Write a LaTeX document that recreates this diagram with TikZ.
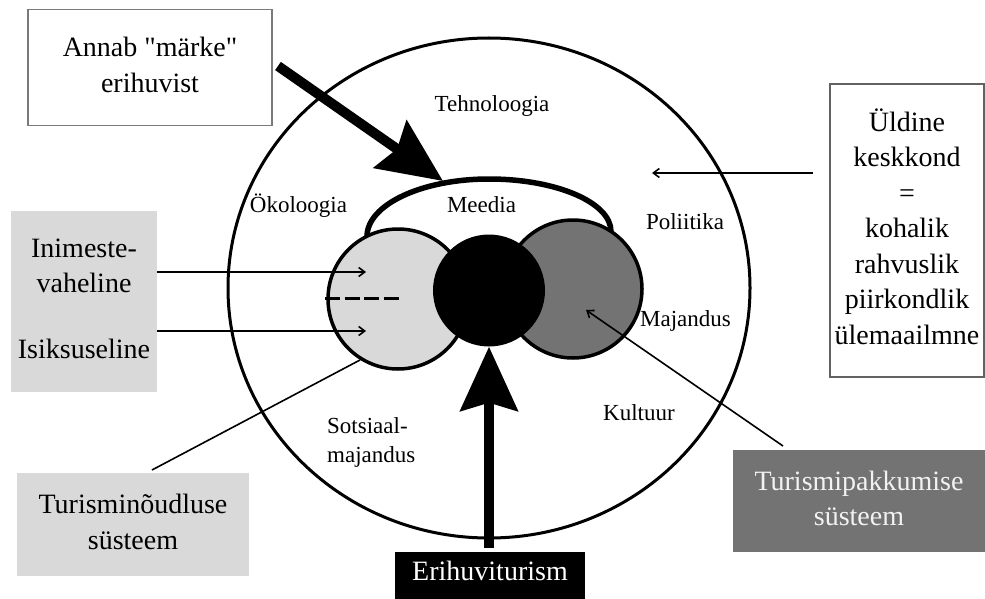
\documentclass[tikz,border=0pt]{standalone}
\usepackage{fontspec}
\setmainfont{Liberation Serif}[Ligatures=TeXOff]
\usetikzlibrary{arrows.meta,shapes.geometric}
\definecolor{lgray}{HTML}{D9D9D9}
\definecolor{dgray}{HTML}{737373}
\definecolor{bgray}{HTML}{7A7A7A}
\definecolor{ptext}{HTML}{F2F2F2}
\begin{document}
\begin{tikzpicture}[x=1pt,y=-1pt,
  boxfont/.style={font=\fontsize{28}{35.5}\selectfont, align=center, inner sep=0pt},
  lbl/.style={font=\fontsize{23}{29}\selectfont, inner sep=0pt},
  framebox/.style={draw=bgray, line width=1.5pt, fill=white},
  bigarrow/.style={line width=10pt, -{Stealth[length=64pt, width=57pt, inset=8pt]}},
  thinarrow/.style={line width=1.6pt, -{Straight Barb[length=6pt, width=9pt]}},
  thinline/.style={line width=1.6pt},
  ring/.style={circle, draw, line width=3.5pt, inner sep=0pt}
]
\useasboundingbox (0,0) rectangle (985,599);
\fill[white] (0,0) rectangle (985,599);

% environment ellipse
\node[ellipse, draw, line width=3pt, minimum width=522pt, minimum height=500pt, inner sep=0pt] (env) at (489,288) {};

% circles
\node[ring, fill=lgray, minimum size=140pt] (dem) at (398,299) {};
\node[ring, fill=dgray, minimum size=138pt] (sup) at (573,289) {};
\node[circle, fill=black, minimum size=112pt, inner sep=0pt] (core) at (489,290.5) {};

% media loop
\draw[line width=5.5pt] (367,236.5) arc[start angle=180, end angle=90, x radius=122pt, y radius=57.5pt]
  arc[start angle=90, end angle=0, x radius=122pt, y radius=52.5pt];

% dashed separator
\coordinate (d1) at (325,298);
\coordinate (d2) at (400,298);
\draw[line width=3pt, dash pattern=on 15pt off 4.5pt] (d1) -- (d2);

% boxes
\node[framebox, boxfont, minimum width=244pt, minimum height=116pt] (annab) at (150,67.5)
  {\strut Annab "märke"\\\strut erihuvist};
\node[framebox, draw=bgray!80!black, boxfont, minimum width=154pt, minimum height=293pt] (uld) at (907,230.5)
  {\strut Üldine\\\strut keskkond\\\strut =\\\strut kohalik\\\strut rahvuslik\\\strut piirkondlik\\\strut ülemaailmne};
\node[fill=lgray, minimum width=146pt, minimum height=181pt, inner sep=0pt] (inim) at (84,301.5) {};
\node[boxfont] (inimtxt) at (84,267.65) {\strut Inimeste-\\\strut vaheline};
\node[boxfont] (isiktxt) at (84,350.9) {\strut Isiksuseline};
\node[fill=lgray, boxfont, minimum width=232pt, minimum height=103pt] (demsys) at (133,524.5)
  {\strut Turisminõudluse\\\strut süsteem};
\node[fill=dgray, text=ptext, boxfont, minimum width=252pt, minimum height=102pt] (supsys) at (859,501)
  {\strut Turismipakkumise\\\strut süsteem};
\node[fill=black, minimum width=190pt, minimum height=60pt, inner sep=0pt] (eri) at (490,582) {};
\node[boxfont, text=white] (eritxt) at (490,572.9) {\strut Erihuviturism};

% labels
\node[lbl] (tehno) at (492,106.2) {\strut Tehnoloogia};
\node[lbl] (oko) at (298.5,206.2) {\strut Ökoloogia};
\node[lbl] (meedia) at (481.5,207) {\strut Meedia};
\node[lbl] (poli) at (685,224) {\strut Poliitika};
\node[lbl] (maj) at (685.5,321) {\strut Majandus};
\node[lbl] (kult) at (639,415) {\strut Kultuur};
\node[lbl, align=left, anchor=west] (sots) at (327,441.7) {\strut Sotsiaal-\\\strut majandus};

% connectors
\coordinate (a1) at (278,66);
\coordinate (a2) at (443,181);
\draw[bigarrow] (a1) -- (a2);
\coordinate (u1) at (489,548);
\draw[bigarrow] (u1) -- (core.south);

\coordinate (i1) at (157,272);
\coordinate (i2) at (366,272);
\draw[thinarrow] (i1) -- (i2);
\coordinate (s1) at (157,331);
\coordinate (s2) at (366,331);
\draw[thinarrow] (s1) -- (s2);

\coordinate (t1) at (152,470);
\coordinate (t2) at (360,360);
\draw[thinline] (t1) -- (t2);

\coordinate (p1) at (783,446);
\coordinate (p2) at (586,310);
\draw[thinarrow] (p1) -- (p2);

\coordinate (k1) at (813,173);
\coordinate (k2) at (652,173);
\draw[thinarrow] (k1) -- (k2);
\end{tikzpicture}
\end{document}
